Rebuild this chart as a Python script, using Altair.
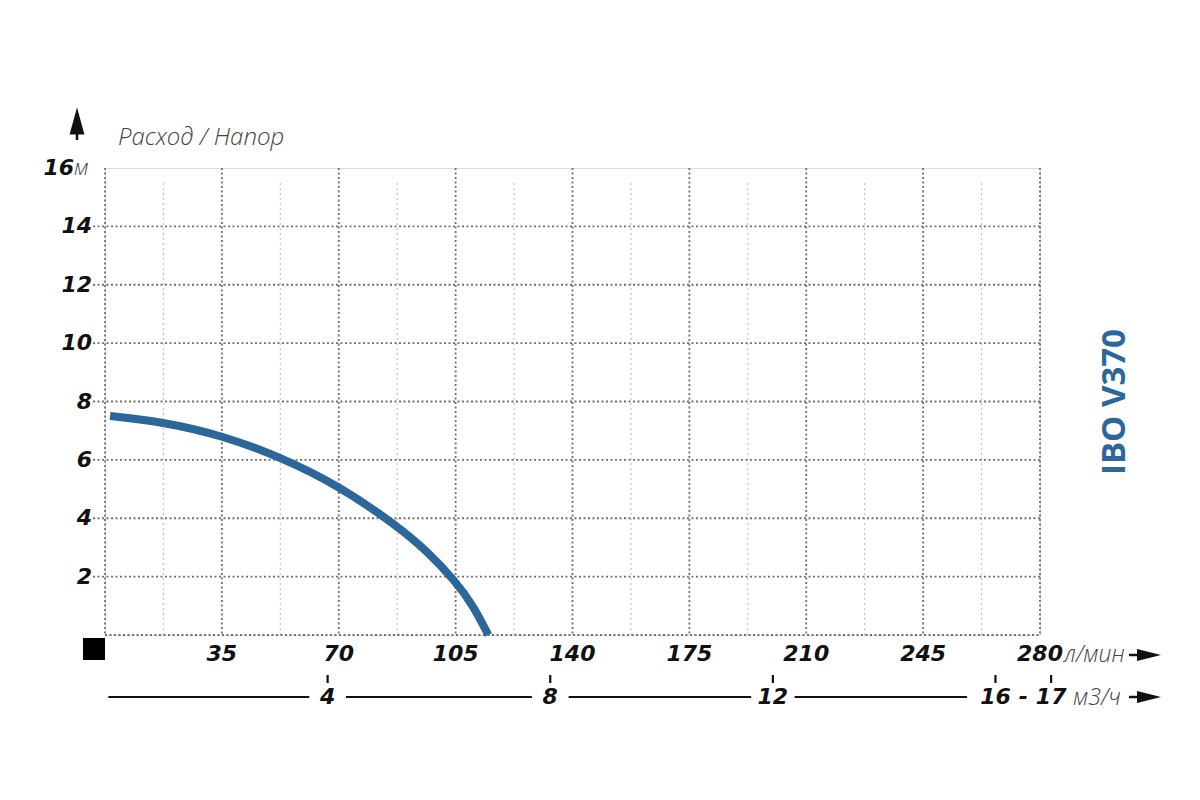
import altair as alt
import pandas as pd

# ---- data ----
flow_lpm = [1.5, 17.5, 35, 52.5, 70, 87.5, 96.2, 105, 110.3, 114.8]
head_m = [7.5, 7.3, 6.84, 6.1, 5.12, 3.74, 2.9, 1.84, 1.0, 0.0]

x_ticks = [35, 70, 105, 140, 175, 210, 245, 280]
x_tick_labels = ["35", "70", "105", "140", "175", "210", "245", "280"]
y_ticks = [2, 4, 6, 8, 10, 12, 14]
y_tick_labels = ["2", "4", "6", "8", "10", "12", "14"]
y_top = 16
m3h_ticks = [4, 8, 12, 16, 17]
m3h_labels = ["4", "8", "12", "16", "17"]

major_x = [0, 35, 70, 105, 140, 175, 210, 245, 280]
minor_x = [17.5, 52.5, 87.5, 122.5, 157.5, 192.5, 227.5, 262.5]
major_y = [2, 4, 6, 8, 10, 12, 14]

title_text = "Расход / Напор"
model_text = "IBO V370"
unit_lpm = "л/мин"
unit_m3h = "м3/ч"
unit_m = "м"

BLUE = "#2b679b"
W, H = 935, 467
BFONT = "DejaVu Sans"
LFONT = "Open Sans"
BSIZE = 22

xs = alt.Scale(domain=[0, 280], nice=False, zero=False)
ys = alt.Scale(domain=[0, 16], nice=False, zero=False)

curve_df = pd.DataFrame({"q": flow_lpm, "h": head_m})
xt_df = pd.DataFrame({"x": x_ticks, "label": x_tick_labels})
yt_df = pd.DataFrame({"y": y_ticks, "label": y_tick_labels})
m3_pos = [v * 1000 / 60 for v in m3h_ticks]
m3_df = pd.DataFrame({"x": m3_pos, "label": m3h_labels})
gap = [5.5, 5.5, 6.5, 8.5]
seg_start = [1.0] + [m3_pos[i] + gap[i] for i in range(3)]
seg_end = [m3_pos[i] - gap[i] for i in range(4)]
seg_df = pd.DataFrame({"x": seg_start, "x2": seg_end})
one = pd.DataFrame({"a": [0]})

bold_txt = dict(font=BFONT, fontSize=BSIZE, fontWeight="bold", fontStyle="italic", color="#111")
light_txt = dict(font=LFONT, fontStyle="italic", fontWeight=300, color="#444")

minor_v = alt.Chart(pd.DataFrame({"x": minor_x})).mark_rule(
    color="#c4c4c4", strokeDash=[2, 3], strokeWidth=1.2
).encode(x=alt.X("x:Q", scale=xs, axis=None), y=alt.value(15), y2=alt.value(H))

major_v = alt.Chart(pd.DataFrame({"x": major_x})).mark_rule(
    color="#707070", strokeDash=[2, 2.5], strokeWidth=1.8
).encode(x=alt.X("x:Q", scale=xs, axis=None), y=alt.value(0), y2=alt.value(H))

major_h = alt.Chart(pd.DataFrame({"y": major_y})).mark_rule(
    color="#707070", strokeDash=[2, 2.5], strokeWidth=1.8
).encode(y=alt.Y("y:Q", scale=ys, axis=None), x=alt.value(-12), x2=alt.value(W))

zero_h = alt.Chart(pd.DataFrame({"y": [0]})).mark_rule(
    color="#707070", strokeDash=[2, 2.5], strokeWidth=1.8
).encode(y=alt.Y("y:Q", scale=ys, axis=None), x=alt.value(0), x2=alt.value(W))

curve = alt.Chart(curve_df).mark_line(
    color=BLUE, strokeWidth=8, interpolate="basis", strokeCap="butt"
).encode(x=alt.X("q:Q", scale=xs, axis=None), y=alt.Y("h:Q", scale=ys, axis=None))

ylab = alt.Chart(yt_df).mark_text(align="right", baseline="middle", **bold_txt).encode(
    y=alt.Y("y:Q", scale=ys, axis=None), x=alt.value(-13), text="label:N")

ytop = alt.Chart(pd.DataFrame({"y": [y_top], "label": [str(y_top)]})).mark_text(
    align="right", baseline="middle", **bold_txt
).encode(y=alt.Y("y:Q", scale=ys, axis=None), x=alt.value(-31), text="label:N")

yunit = alt.Chart(pd.DataFrame({"y": [y_top], "label": [unit_m]})).mark_text(
    align="left", baseline="middle", fontSize=22, **light_txt
).encode(y=alt.Y("y:Q", scale=ys, axis=None), x=alt.value(-31), text="label:N")

xlab = alt.Chart(xt_df).mark_text(align="center", baseline="middle", **bold_txt).encode(
    x=alt.X("x:Q", scale=xs, axis=None), y=alt.value(H + 19), text="label:N")

xunit = alt.Chart(pd.DataFrame({"label": [unit_lpm]})).mark_text(
    align="left", baseline="middle", fontSize=23, **light_txt
).encode(x=alt.value(959), y=alt.value(H + 20), text="label:N")

segs = alt.Chart(seg_df).mark_rule(color="#111", strokeWidth=2.2).encode(
    x=alt.X("x:Q", scale=xs, axis=None), x2="x2:Q", y=alt.value(H + 62)
)

m3ticks = alt.Chart(m3_df).mark_rule(color="#111", strokeWidth=2.2).encode(
    x=alt.X("x:Q", scale=xs, axis=None), y=alt.value(H + 40), y2=alt.value(H + 48)
)

m3lab = alt.Chart(m3_df).mark_text(align="center", baseline="middle", **bold_txt).encode(
    x=alt.X("x:Q", scale=xs, axis=None), y=alt.value(H + 62), text="label:N")

dash = alt.Chart(pd.DataFrame({"x": [(m3_pos[3] + m3_pos[4]) / 2], "label": ["-"]})).mark_text(
    align="center", baseline="middle", **bold_txt
).encode(x=alt.X("x:Q", scale=xs, axis=None), y=alt.value(H + 62), text="label:N")

m3unit = alt.Chart(pd.DataFrame({"label": [unit_m3h]})).mark_text(
    align="left", baseline="middle", fontSize=23, **light_txt
).encode(x=alt.value(968), y=alt.value(H + 63), text="label:N")

arrow_df = pd.DataFrame({"yy": [H + 20, H + 62]})
shafts = alt.Chart(arrow_df).mark_rule(color="#111", strokeWidth=2.5).encode(
    x=alt.value(1024), x2=alt.value(1040), y=alt.Y("yy:Q", scale=None, axis=None)
)
heads = alt.Chart(arrow_df).mark_point(
    shape="M-1,-0.5L1,0L-1,0.5Z", size=576, filled=True, color="#111", opacity=1
).encode(x=alt.value(1044), y=alt.Y("yy:Q", scale=None, axis=None))

yshaft = alt.Chart(one).mark_rule(color="#111", strokeWidth=2.5).encode(
    x=alt.value(-28), y=alt.value(-36), y2=alt.value(-28)
)
yhead = alt.Chart(one).mark_point(
    shape="M0,-1L0.55,1L-0.55,1Z", size=729, filled=True, color="#111", opacity=1
).encode(x=alt.value(-28), y=alt.value(-47))

square = alt.Chart(one).mark_point(
    shape="square", size=484, filled=True, color="#000", opacity=1
).encode(x=alt.value(-11), y=alt.value(H + 14))

title = alt.Chart(pd.DataFrame({"label": [title_text]})).mark_text(
    align="left", baseline="middle", fontSize=24, **light_txt
).encode(x=alt.value(13), y=alt.value(-30), text="label:N")

model = alt.Chart(pd.DataFrame({"label": [model_text]})).mark_text(
    font=LFONT, fontSize=33, fontWeight="bold", angle=270,
    align="center", baseline="middle", color=BLUE
).encode(x=alt.value(1010), y=alt.value(234), text="label:N")

chart = alt.layer(
    minor_v, major_v, major_h, zero_h, curve, ylab, ytop, yunit, xlab, xunit,
    segs, m3ticks, m3lab, dash, m3unit, shafts, heads, yshaft, yhead, square,
    title, model
).properties(
    width=W, height=H,
    autosize=alt.AutoSizeParams(type="none"),
    padding={"left": 97, "top": 160, "right": 150, "bottom": 120},
).configure_view(stroke=None).configure(background="white")

chart.save("out.html", embed_options={"renderer": "svg", "actions": False})
